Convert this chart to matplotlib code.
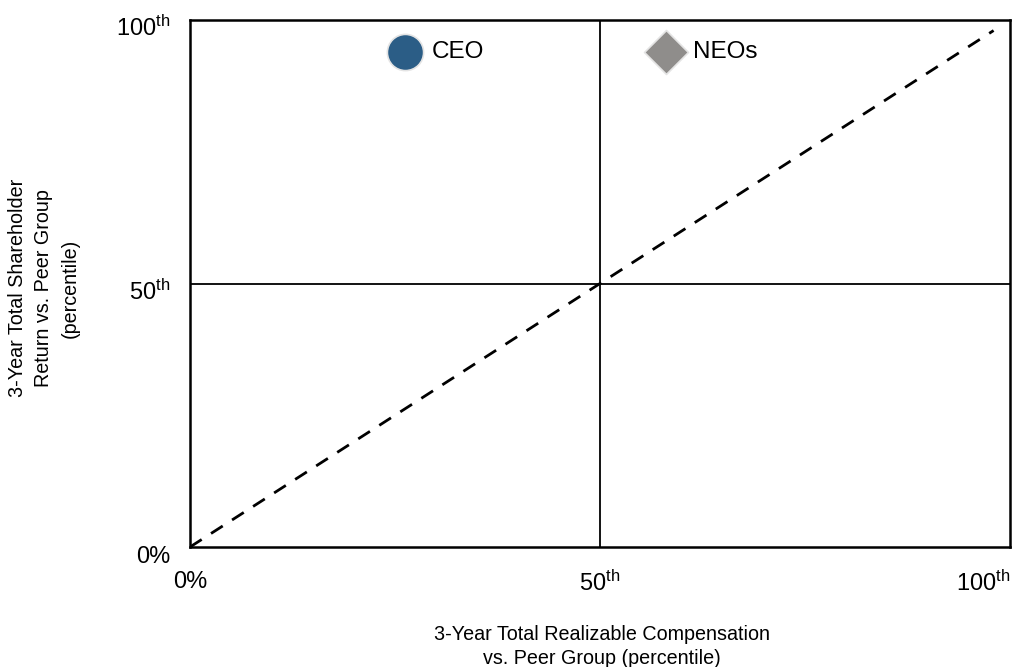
import matplotlib
matplotlib.use("Agg")
import matplotlib.pyplot as plt

plt.rcParams['font.family'] = ['Liberation Sans', 'DejaVu Sans']
plt.rcParams['mathtext.fontset'] = 'custom'
plt.rcParams['mathtext.rm'] = 'Liberation Sans'
plt.rcParams['mathtext.it'] = 'Liberation Sans'

# Data (percentile positions)
labels = ["CEO", "NEOs"]
comp_pct = [26.2, 58]    # x: realizable compensation percentile
tsr_pct = [94, 94]       # y: shareholder return percentile
colors = ["#2b5d86", "#8f8d8b"]
markers = ["o", "D"]
sizes = [680, 500]

diag_x = [0, 98]
diag_y = [0, 98]

xticks = [0, 50, 100]
xticklabels = ["0%", "50$^{\\mathrm{th}}$", "100$^{\\mathrm{th}}$"]
yticks = [0, 50, 100]
yticklabels = ["0%", "50$^{\\mathrm{th}}$", "100$^{\\mathrm{th}}$"]

fig = plt.figure(figsize=(10.14, 6.67), dpi=100)
ax = fig.add_axes([190 / 1014, 120 / 667, 820 / 1014, 527 / 667])
ax.set_xlim(0, 99.5)
ax.set_ylim(0, 100)

# quadrant lines
ax.axvline(50, color="black", lw=1.3)
ax.axhline(50, color="black", lw=1.3)

# diagonal
ax.plot(diag_x, diag_y, color="black", lw=2, linestyle=(0, (5, 4)))

for lab, x, y, c, m, s in zip(labels, comp_pct, tsr_pct, colors, markers, sizes):
    ax.scatter(x, y, s=s, marker=m, color=c, edgecolors="#e4e4e4", linewidths=1.2, zorder=3)
    ax.text(x + 3.3, y, lab, fontsize=17.5, va="center", ha="left", zorder=4)

for sp in ax.spines.values():
    sp.set_linewidth(1.8)

ax.set_xticks(xticks)
ax.set_xticklabels(xticklabels, fontsize=17)
ax.set_yticks([])
ax.tick_params(axis="x", length=0, pad=17)
ax.get_xticklabels()[2].set_horizontalalignment("right")
ax.get_xticklabels()[2].set_x(100)

# y tick labels drawn manually to match placement
for t, lab in zip(yticks, yticklabels):
    ax.text(-2.4, t - 3.1, lab, fontsize=17, ha="right", va="baseline")

fig.text(602 / 1014, 1 - 625 / 667,
         "3-Year Total Realizable Compensation\nvs. Peer Group (percentile)",
         fontsize=14.2, ha="center", va="top", linespacing=1.3)
fig.text(0.043, 1 - 288 / 667, "3-Year Total Shareholder\nReturn vs. Peer Group\n(percentile)",
         rotation=90, fontsize=14.2, ha="center", va="center", linespacing=1.5)

fig.savefig("out.png", dpi=100)
